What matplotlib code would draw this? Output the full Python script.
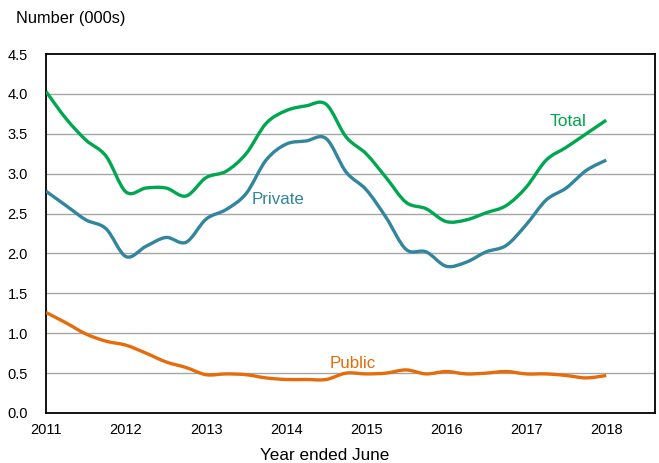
import numpy as np
import matplotlib
matplotlib.use("Agg")
import matplotlib.pyplot as plt
from matplotlib.path import Path
from matplotlib.patches import PathPatch

plt.rcParams['font.family'] = ['Liberation Sans', 'DejaVu Sans']

years = [2011 + q / 4 for q in range(29)]
total = [4.03, 3.69, 3.42, 3.22, 2.77, 2.82, 2.82, 2.72, 2.95, 3.03, 3.25, 3.63,
         3.79, 3.85, 3.87, 3.46, 3.25, 2.95, 2.64, 2.56, 2.40, 2.42, 2.51, 2.60,
         2.83, 3.17, 3.33, 3.50, 3.67]
private = [2.78, 2.60, 2.42, 2.31, 1.96, 2.09, 2.20, 2.14, 2.43, 2.55, 2.75, 3.17,
           3.37, 3.41, 3.44, 3.02, 2.80, 2.45, 2.05, 2.02, 1.84, 1.89, 2.02, 2.10,
           2.36, 2.67, 2.82, 3.04, 3.17]
public = [1.26, 1.13, 0.99, 0.90, 0.85, 0.75, 0.64, 0.57, 0.48, 0.49, 0.48, 0.44,
          0.42, 0.42, 0.42, 0.50, 0.49, 0.50, 0.54, 0.49, 0.52, 0.49, 0.50, 0.52,
          0.49, 0.49, 0.47, 0.44, 0.47]
xticks = [2011, 2012, 2013, 2014, 2015, 2016, 2017, 2018]
yticks = [0.0, 0.5, 1.0, 1.5, 2.0, 2.5, 3.0, 3.5, 4.0, 4.5]

c_total = '#00A650'
c_private = '#31859C'
c_public = '#E46C0A'


def smooth_path(x, y):
    """Catmull-Rom style smooth Bezier path through the data points."""
    pts = np.column_stack([x, y]).astype(float)
    n = len(pts)
    verts = [pts[0]]
    codes = [Path.MOVETO]
    for i in range(n - 1):
        p0 = pts[i - 1] if i > 0 else pts[i]
        p1 = pts[i]
        p2 = pts[i + 1]
        p3 = pts[i + 2] if i + 2 < n else pts[i + 1]
        c1 = p1 + (p2 - p0) / 6.0
        c2 = p2 - (p3 - p1) / 6.0
        verts += [c1, c2, p2]
        codes += [Path.CURVE4] * 3
    return Path(verts, codes)


fig = plt.figure(figsize=(6.59, 4.63), dpi=100)
ax = fig.add_axes([46/659, 1 - 413/463, (655 - 46)/659, (413 - 54)/463])

for ys in yticks[1:-1]:
    ax.axhline(ys, color='#A6A6A6', lw=1.0, zorder=1)

lw = 2.4
for series, col in [(total, c_total), (private, c_private), (public, c_public)]:
    patch = PathPatch(smooth_path(years, series), facecolor='none', edgecolor=col,
                      lw=lw, joinstyle='round', capstyle='butt', zorder=3)
    ax.add_patch(patch)

ax.set_xlim(2011, 2011 + (655 - 47) / 79.9)
ax.set_ylim(0, 4.5)
ax.set_xticks(xticks)
ax.set_xticklabels([str(x) for x in xticks])
ax.set_yticks(yticks)
ax.set_yticklabels([f"{v:.1f}" for v in yticks])
ax.tick_params(axis='both', length=0, labelsize=10.5, colors='black')
ax.tick_params(axis='y', pad=13)
ax.tick_params(axis='x', pad=7)
for s in ax.spines.values():
    s.set_color('black')
    s.set_linewidth(1.3)

ax.text(2017.29, 3.65, 'Total', color=c_total, fontsize=12.5, ha='left', va='center')
ax.text(2013.57, 2.68, 'Private', color=c_private, fontsize=12.2, ha='left', va='center')
ax.text(2014.55, 0.62, 'Public', color=c_public, fontsize=12.2, ha='left', va='center')

fig.text(16/659, 1 - 18/463, 'Number (000s)', fontsize=11.8, ha='left', va='center')
fig.text(325/659, 1 - 456/463, 'Year ended June', fontsize=12.3, ha='center', va='center')

fig.savefig('out.png', dpi=100)
